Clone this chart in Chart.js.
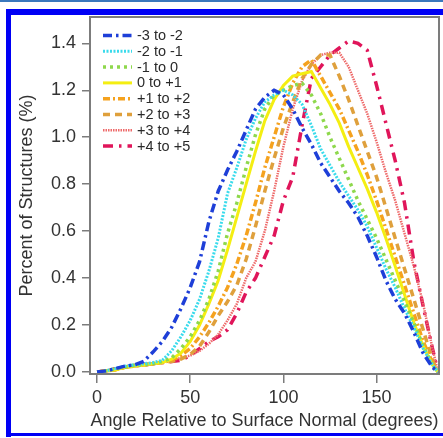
<!DOCTYPE html>
<html>
<head>
<meta charset="utf-8">
<script src="https://cdn.jsdelivr.net/npm/chart.js@4/dist/chart.umd.min.js"></script>
<style>
  html,body{margin:0;padding:0;background:#fff;}
  #wrap{position:relative;width:443px;height:438px;overflow:hidden;}
  #c{position:absolute;left:0;top:0;}
  .fr{position:absolute;}
</style>
</head>
<body>
<div id="wrap">
  <canvas id="c" width="443" height="438"></canvas>
  <div class="fr" style="left:0;top:0;width:443px;height:2px;background:#3a78bd;"></div>
  <div class="fr" style="left:6px;top:9px;width:437px;height:6px;background:#0000f5;"></div>
  <div class="fr" style="left:6px;top:9px;width:5px;height:428px;background:#0000f5;"></div>
  <div class="fr" style="left:6px;top:433px;width:437px;height:3px;background:#0000f5;"></div>
</div>
<script>
const angles = [0,5,10,15,20,25,30,35,40,45,50,55,60,65,70,75,80,85,90,95,100,105,110,115,120,125,130,135,140,145,150,155,160,165,170,175,180,183];

const seriesNames = ["-3 to -2","-2 to -1","-1 to 0","0 to +1","+1 to +2","+2 to +3","+3 to +4","+4 to +5"];

const s_m3m2 = [0,0.005,0.015,0.025,0.03,0.045,0.085,0.13,0.19,0.27,0.36,0.47,0.64,0.77,0.86,0.94,1.03,1.12,1.17,1.2,1.18,1.12,1.04,0.97,0.89,0.83,0.77,0.72,0.66,0.58,0.49,0.39,0.31,0.25,0.17,0.08,0.02,0];
const s_m2m1 = [0,0.005,0.015,0.025,0.03,0.035,0.04,0.05,0.09,0.15,0.22,0.31,0.43,0.57,0.76,0.87,0.99,1.08,1.15,1.18,1.2,1.18,1.14,1.05,0.95,0.88,0.81,0.75,0.69,0.62,0.53,0.44,0.36,0.27,0.19,0.1,0.03,0];
const s_m1p0 = [0,0.005,0.015,0.02,0.03,0.03,0.035,0.045,0.06,0.1,0.15,0.22,0.31,0.43,0.59,0.72,0.87,1.01,1.12,1.18,1.2,1.22,1.23,1.18,1.1,1.0,0.91,0.82,0.73,0.65,0.57,0.48,0.39,0.3,0.21,0.11,0.03,0];
const s_p0p1 = [0,0.005,0.01,0.02,0.025,0.03,0.035,0.04,0.055,0.08,0.13,0.2,0.29,0.39,0.52,0.66,0.8,0.94,1.07,1.16,1.22,1.26,1.27,1.28,1.21,1.14,1.06,0.96,0.87,0.78,0.68,0.57,0.45,0.33,0.21,0.11,0.03,0];
const s_p1p2 = [0,0.005,0.01,0.02,0.025,0.03,0.035,0.04,0.05,0.07,0.1,0.15,0.21,0.28,0.36,0.46,0.58,0.72,0.87,1.0,1.13,1.23,1.3,1.33,1.26,1.19,1.12,1.03,0.94,0.84,0.73,0.61,0.49,0.37,0.25,0.13,0.04,0];
const s_p2p3 = [0,0.005,0.01,0.02,0.025,0.03,0.035,0.04,0.045,0.055,0.075,0.11,0.17,0.24,0.3,0.37,0.48,0.62,0.77,0.91,1.04,1.15,1.25,1.31,1.35,1.35,1.26,1.16,1.05,0.94,0.83,0.7,0.57,0.44,0.31,0.18,0.05,0];
const s_p3p4 = [0,0.005,0.01,0.02,0.03,0.03,0.035,0.04,0.05,0.06,0.07,0.09,0.12,0.16,0.22,0.29,0.4,0.47,0.6,0.77,0.96,1.12,1.24,1.31,1.35,1.36,1.36,1.3,1.2,1.1,0.98,0.85,0.73,0.59,0.45,0.29,0.1,0];
const s_p4p5 = [0,0.005,0.015,0.02,0.03,0.03,0.035,0.04,0.045,0.05,0.07,0.1,0.13,0.15,0.18,0.25,0.34,0.4,0.49,0.58,0.73,0.83,1.05,1.25,1.3,1.35,1.38,1.41,1.4,1.37,1.22,1.06,0.9,0.72,0.47,0.28,0.1,0];

const xTicks = [0,50,100,150];
const yTicks = [0,0.2,0.4,0.6,0.8,1.0,1.2,1.4];

const allSeries = [s_m3m2,s_m2m1,s_m1p0,s_p0p1,s_p1p2,s_p2p3,s_p3p4,s_p4p5];
const styles = [
  {c:"#1e3fd8", w:3.5, d:[9,4,2.5,4]},
  {c:"#3adbec", w:3,   d:[2,1.5]},
  {c:"#8ed84c", w:3.5, d:[3,4]},
  {c:"#f4ee12", w:3,   d:[]},
  {c:"#f5a21e", w:3.5, d:[7,3,2,3]},
  {c:"#dfa03c", w:3.5, d:[7,5]},
  {c:"#ee6a6a", w:2.5, d:[1.5,1]},
  {c:"#e0155a", w:3.5, d:[10,6,2.5,6]}
];

const datasets = allSeries.map((s,i)=>({
  label: seriesNames[i],
  data: s.map((v,k)=>({x:angles[k], y:v})),
  borderColor: styles[i].c,
  backgroundColor: styles[i].c,
  borderWidth: styles[i].w,
  borderDash: styles[i].d,
  pointRadius: 0,
  tension: 0,
  fill: false
}));

const FONT = "'Liberation Sans', Arial, sans-serif";

const boxPlugin = {
  id: 'box',
  afterDatasetsDraw(chart){
    const {ctx, chartArea:a} = chart;
    ctx.save();
    ctx.strokeStyle = '#7c7c7c';
    ctx.lineWidth = 2;
    ctx.setLineDash([]);
    ctx.strokeRect(a.left, a.top, a.right - a.left, a.bottom - a.top);
    // legend
    const x0 = 103, x1 = 132, tx = 137;
    ctx.font = "14.5px " + FONT;
    ctx.textBaseline = 'middle';
    ctx.textAlign = 'left';
    chart.data.datasets.forEach((ds,i)=>{
      const y = 35.5 + i*15.8;
      ctx.strokeStyle = ds.borderColor;
      ctx.lineWidth = ds.borderWidth;
      ctx.setLineDash(ds.borderDash);
      ctx.beginPath();
      ctx.moveTo(x0,y); ctx.lineTo(x1,y);
      ctx.stroke();
      ctx.setLineDash([]);
      ctx.fillStyle = '#2a2a2a';
      ctx.fillText(ds.label, tx, y + 0.5);
    });
    ctx.restore();
  }
};

new Chart(document.getElementById('c'), {
  type: 'line',
  data: { datasets },
  plugins: [boxPlugin],
  options: {
    responsive: false,
    animation: false,
    devicePixelRatio: 1,
    layout: { padding: { left: 0, top: 17, right: 4, bottom: 0 } },
    plugins: { legend: { display: false }, tooltip: { enabled: false } },
    scales: {
      x: {
        type: 'linear',
        min: -3.8, max: 183.5,
        afterFit(s){ s.height = 64; },
        afterBuildTicks(s){ s.ticks = xTicks.map(v=>({value:v})); },
        grid: { drawOnChartArea: false, color: '#7c7c7c', tickLength: 9, lineWidth: 1.5 },
        border: { display: false },
        ticks: { color: '#333', font: { family: FONT, size: 18 }, padding: 4, maxRotation: 0, callback: v => String(v) },
        title: { display: true, text: 'Angle Relative to Surface Normal (degrees)', color: '#333', font: { family: FONT, size: 18 }, padding: { top: 0, bottom: 6 } }
      },
      y: {
        type: 'linear',
        min: -0.0085, max: 1.512,
        afterFit(s){ s.width = 90; },
        afterBuildTicks(s){ s.ticks = yTicks.map(v=>({value:v})); },
        grid: { drawOnChartArea: false, color: '#7c7c7c', tickLength: 8, lineWidth: 1.5 },
        border: { display: false },
        ticks: { color: '#333', font: { family: FONT, size: 18 }, padding: 6, callback: v => Number(v).toFixed(1) },
        title: { display: true, text: 'Percent of Structures (%)', color: '#333', font: { family: FONT, size: 18 }, padding: { top: 16, bottom: 0 } }
      }
    }
  }
});
</script>
</body>
</html>
